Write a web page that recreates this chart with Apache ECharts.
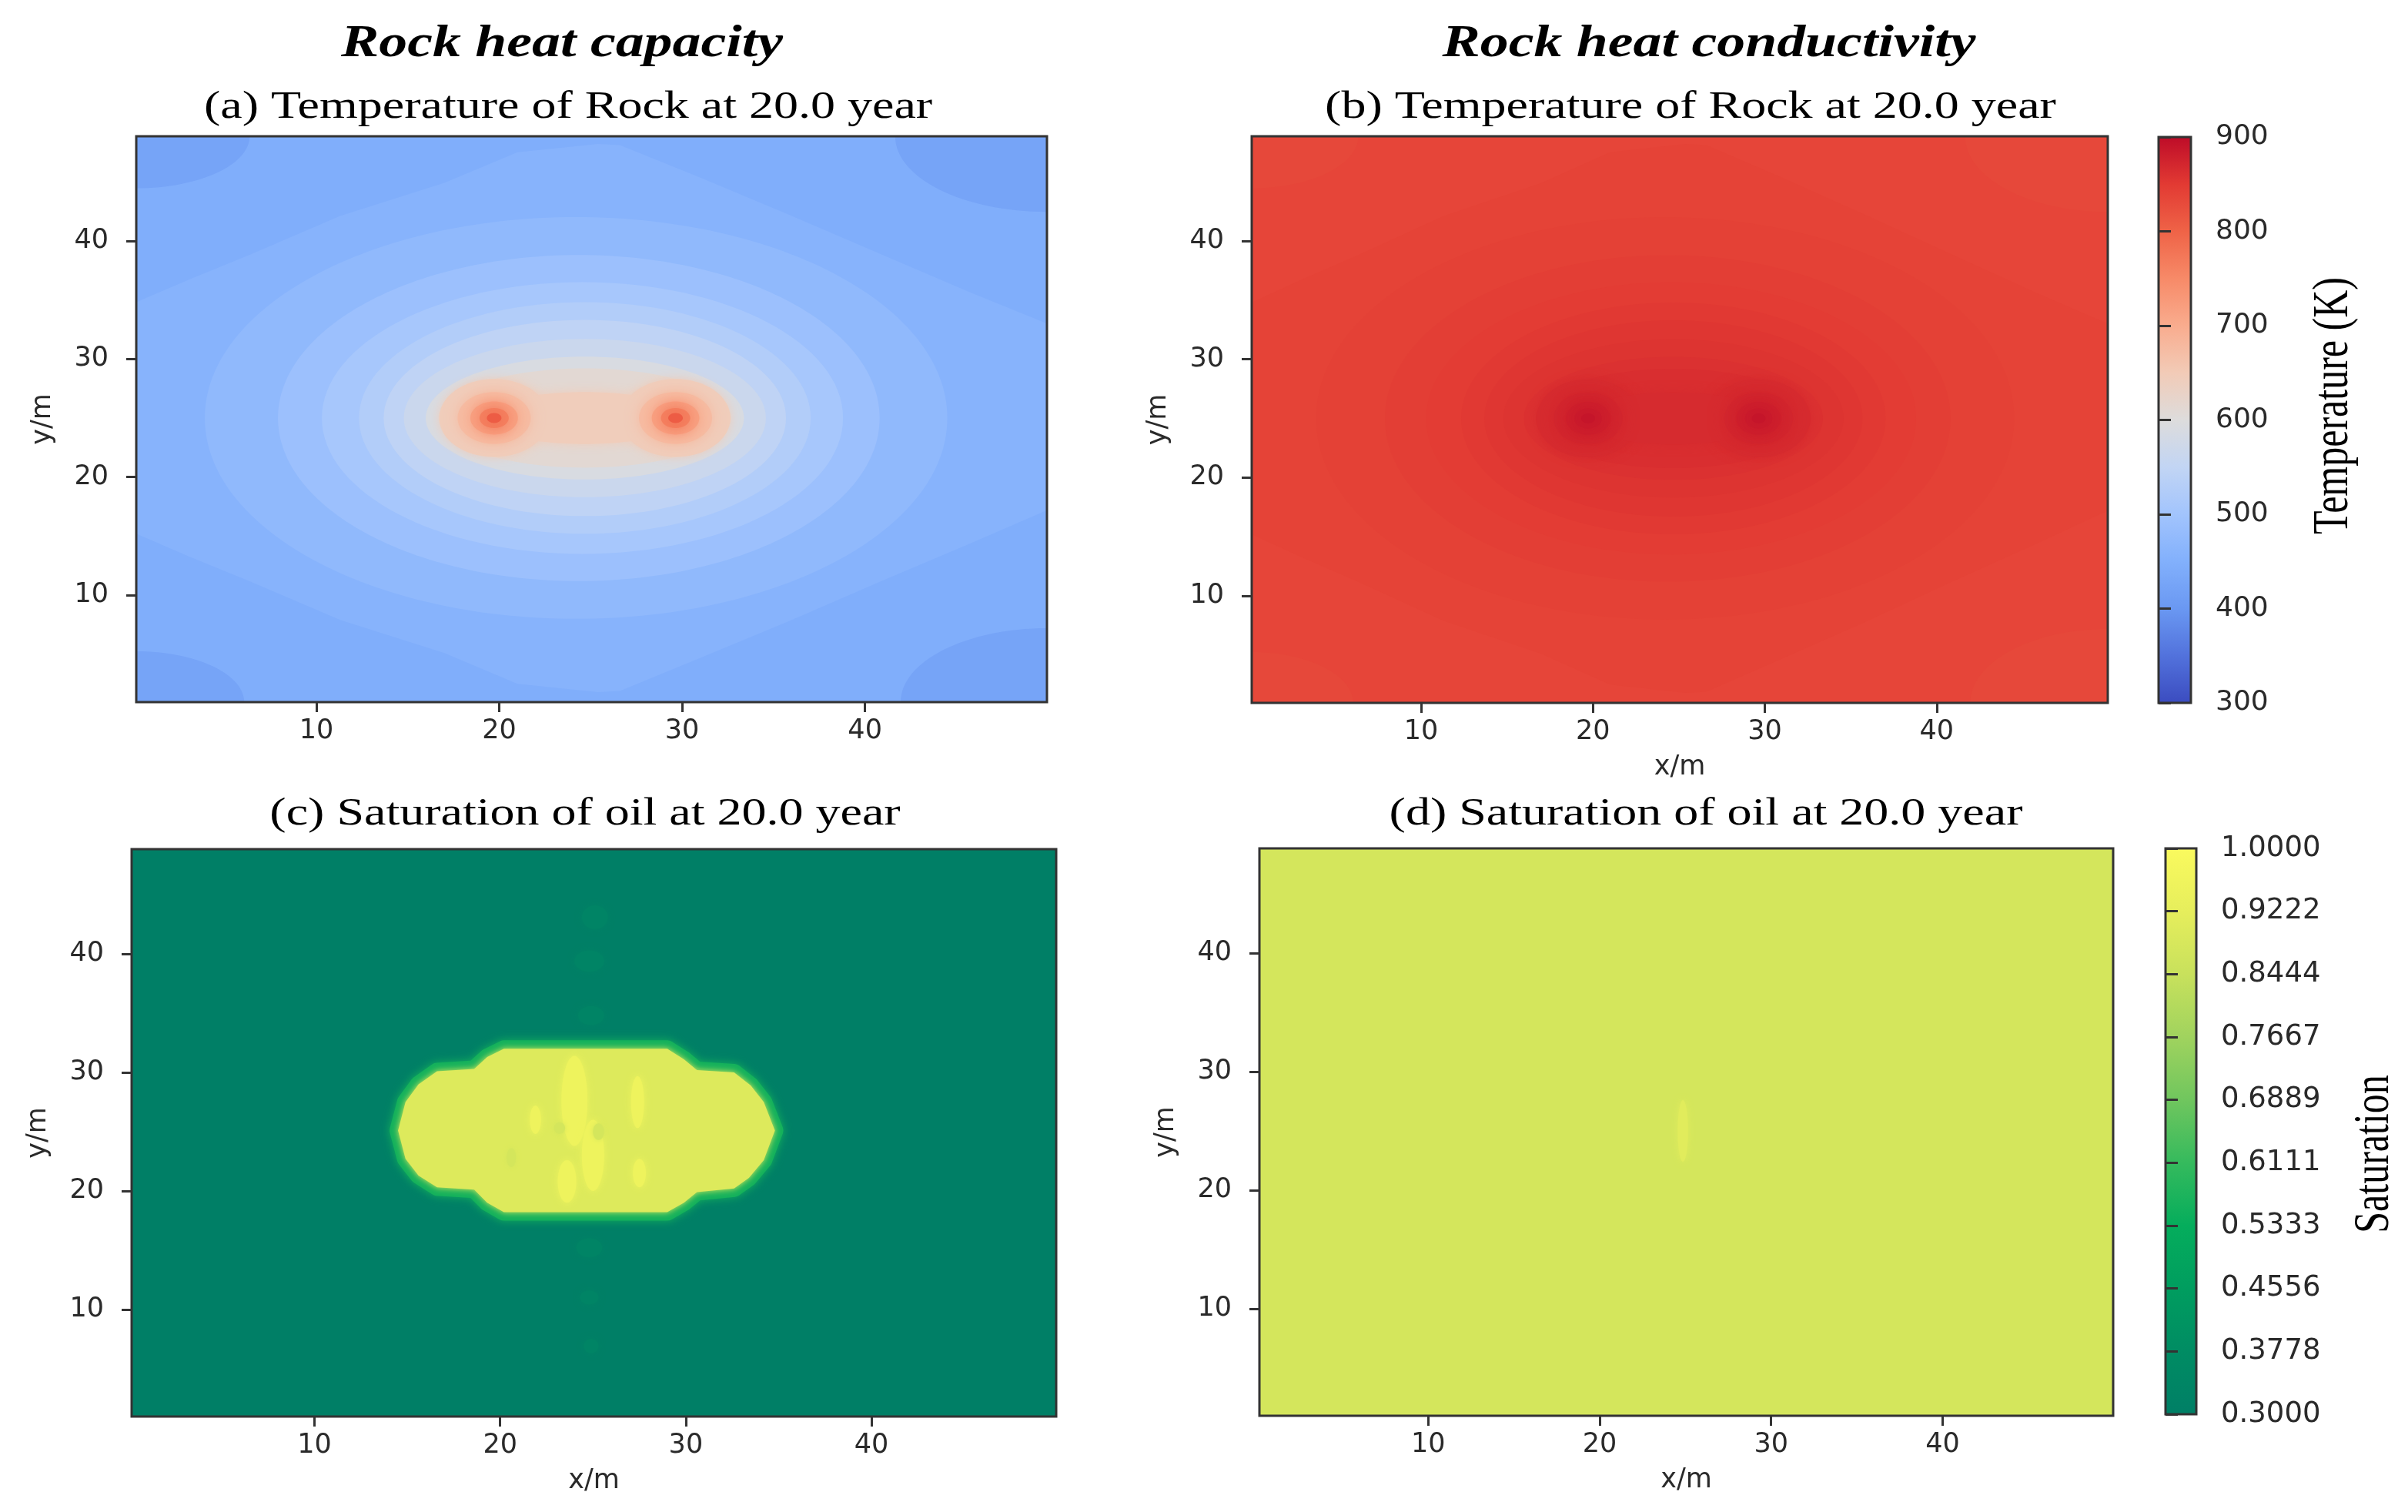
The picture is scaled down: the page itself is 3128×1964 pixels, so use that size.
<!DOCTYPE html>
<html>
<head>
<meta charset="utf-8">
<script src="https://cdn.jsdelivr.net/npm/echarts@6/dist/echarts.min.js"></script>
<style>
html,body{margin:0;padding:0;background:#ffffff;}
#chart{width:3128px;height:1964px;}
</style>
</head>
<body>
<div id="chart"></div>
<script>
// ---------------- axis extents and tick labels ----------------
const xRange = [0.15, 49.95];
const yRange = [0.95, 48.85];
const xTicks = [10, 20, 30, 40];
const yTicks = [10, 20, 30, 40];
const tempRange = [300, 900];
const satRange = [0.3, 1.0];
const satTicks = [0.3, 0.3778, 0.4556, 0.5333, 0.6111, 0.6889, 0.7667, 0.8444, 0.9222, 1.0];

// ---------------- colour maps (even stops, min -> max) ----------------
const tempColors = ['#3b4cc0', '#5272dc', '#6a98f2', '#82b0fc', '#a2c4fd', '#c2d5f4', '#dddcdc',
                    '#f2cbb7', '#f9ac8e', '#f78a68', '#ef6347', '#e23a33', '#be0c28'];
const satColors = ['#007f66', '#008c63', '#009d5f', '#05ad5c', '#35ba5d', '#70c65e', '#a0d35e',
                   '#c8e15c', '#e6ee5c', '#fafa5e'];

// ---------------- titles ----------------
const columnTitles = ['Rock heat capacity', 'Rock heat conductivity'];
const panelTitles = ['(a) Temperature of Rock at 20.0 year', '(b) Temperature of Rock at 20.0 year',
                     '(c) Saturation of oil at 20.0 year', '(d) Saturation of oil at 20.0 year'];
const colorbarTitles = ['Temperature (K)', 'Saturation'];

// ---------------- contour geometry of the temperature fields, data units ----------------
// ellipses: [cx, cy, rx, ry]
const cornerEllipses = [[0.15, 48.85, 6.2, 4.4], [49.95, 48.85, 8.3, 6.4], [0.15, 0.95, 5.9, 4.3], [49.95, 0.95, 8.0, 6.25]];
const lemonOutline = [[0.15, 34.8], [3.0, 36.7], [6.4, 38.85], [11.3, 42.1], [17.0, 44.9], [21.0, 47.5], [25.4, 48.2],
                      [26.6, 48.1], [31.0, 45.35], [36.0, 42.1], [40.9, 38.85], [45.8, 35.6], [49.95, 33.0],
                      [49.95, 17.2], [45.8, 14.4], [40.9, 11.2], [36.0, 7.9], [31.0, 4.7], [26.6, 1.9], [25.4, 1.8],
                      [21.0, 2.5], [17.0, 5.1], [11.3, 7.9], [6.4, 11.15], [3.0, 13.3], [0.15, 15.2]];
const ringEllipses = [[24.2, 25.0, 20.3, 17.0], [24.35, 25.0, 16.45, 13.8], [24.55, 25.0, 14.25, 11.5],
                      [24.68, 25.0, 12.35, 9.8], [24.68, 25.0, 11.0, 8.3], [24.68, 25.0, 9.9, 6.7],
                      [24.68, 25.0, 8.7, 5.2], [24.68, 25.0, 8.0, 4.2]];
const peanutEllipses = [[19.72, 25.0, 3.0, 3.3], [29.64, 25.0, 3.0, 3.3], [24.68, 25.0, 5.5, 2.2]];
const hotSpotCentres = [[19.72, 25.0], [29.64, 25.0]];
const hotSpotRadii = [[2.0, 2.2], [1.3, 1.4], [0.8, 0.85], [0.4, 0.42]];

// (a) rock heat capacity: temperatures (K)
const backgroundTempA = 445;
const cornerTempA = 425;
const lemonTempA = 458;
const ringTempsA = [472, 490, 508, 525, 545, 565, 590, 612];
const peanutTempA = 645;
const hotSpotTempsA = [675, 715, 760, 808];

// (b) rock heat conductivity: temperatures (K)
const backgroundTempB = 836;
const cornerTempB = 833;
const lemonTempB = 839;
const ringTempsB = [842, 845, 848, 851, 854, 857, 860, 863];
const peanutTempB = 866;
const hotSpotTempsB = [872, 878, 884, 890];

// (c) oil saturation, heat capacity case
const blobOutlineC = [[14.5, 25.1], [14.9, 27.5], [15.6, 29.0], [16.6, 30.1], [18.6, 30.3], [19.3, 31.3], [20.2, 32.0],
                      [29.0, 32.0], [29.9, 31.1], [30.6, 30.2], [32.6, 30.0], [33.5, 28.9], [34.2, 27.5], [34.8, 25.1],
                      [34.2, 22.6], [33.4, 21.1], [32.6, 20.2], [30.6, 19.9], [29.9, 19.0], [29.0, 18.2], [20.2, 18.2],
                      [19.3, 19.0], [18.6, 20.1], [16.6, 20.3], [15.6, 21.3], [14.9, 22.7]];
const ghostSpotsC = [[25.1, 43.1, 0.7, 1.0], [24.8, 39.4, 0.8, 0.9], [24.9, 34.8, 0.7, 0.8],
                     [24.8, 15.2, 0.7, 0.8], [24.8, 11.0, 0.5, 0.6], [24.9, 6.9, 0.4, 0.6]];
const brightPatchesC = [[24.0, 27.6, 0.7, 3.8], [25.0, 23.0, 0.6, 3.0], [23.6, 20.8, 0.5, 1.8],
                        [27.4, 27.5, 0.35, 2.2], [27.5, 21.5, 0.35, 1.2], [21.9, 26.0, 0.3, 1.2]];
const darkSpecksC = [[23.2, 25.3, 0.3, 0.5], [25.3, 25.0, 0.3, 0.7], [20.6, 22.8, 0.25, 0.8]];
const backgroundSatC = 0.30;
const ghostSatC = 0.33;
const haloSatC = 0.56;
const blobSatC = 0.9;
const brightSatC = 0.955;
const speckSatC = 0.875;

// (d) oil saturation, heat conductivity case
const streakD = [[24.85, 25.0, 0.3, 2.6]];
const backgroundSatD = 0.875;
const streakSatD = 0.91;

// ---------------- build drawable items ----------------
function buildTempShapes(bg, corner, lemon, rings, peanut, spots) {
  const s = [{kind: 'rect', v: bg}];
  cornerEllipses.forEach(e => s.push({kind: 'ellipse', e: e, v: corner}));
  s.push({kind: 'polygon', pts: lemonOutline, v: lemon});
  ringEllipses.forEach((e, i) => s.push({kind: 'ellipse', e: e, v: rings[i]}));
  peanutEllipses.forEach(e => s.push({kind: 'ellipse', e: e, v: peanut, blur: 14}));
  hotSpotRadii.forEach((r, j) => hotSpotCentres.forEach(c =>
    s.push({kind: 'ellipse', e: [c[0], c[1], r[0], r[1]], v: spots[j], blur: 20})));
  return s;
}
const shapesA = buildTempShapes(backgroundTempA, cornerTempA, lemonTempA, ringTempsA, peanutTempA, hotSpotTempsA);
const shapesB = buildTempShapes(backgroundTempB, cornerTempB, lemonTempB, ringTempsB, peanutTempB, hotSpotTempsB);

const shapesC = [{kind: 'rect', v: backgroundSatC}];
ghostSpotsC.forEach(e => shapesC.push({kind: 'ellipse', e: e, v: ghostSatC, blur: 8}));
shapesC.push({kind: 'polygon', pts: blobOutlineC, v: haloSatC, line: 22, blur: 12});
shapesC.push({kind: 'polygon', pts: blobOutlineC, v: blobSatC, blur: 8});
brightPatchesC.forEach(e => shapesC.push({kind: 'ellipse', e: e, v: brightSatC, blur: 10}));
darkSpecksC.forEach(e => shapesC.push({kind: 'ellipse', e: e, v: speckSatC, blur: 6}));

const shapesD = [{kind: 'rect', v: backgroundSatD}];
streakD.forEach(e => shapesD.push({kind: 'ellipse', e: e, v: streakSatD, blur: 8}));

function shapeRenderer(shapes) {
  return function (params, api) {
    const s = shapes[params.dataIndex];
    const color = api.visual('color');
    let el;
    if (s.kind === 'rect') {
      const a = api.coord([xRange[0], yRange[1]]);
      const b = api.coord([xRange[1], yRange[0]]);
      el = {type: 'rect', shape: {x: a[0], y: a[1], width: b[0] - a[0], height: b[1] - a[1]}};
    } else if (s.kind === 'ellipse') {
      const c = api.coord([s.e[0], s.e[1]]);
      const px = api.coord([s.e[0] + s.e[2], s.e[1] + s.e[3]]);
      el = {type: 'ellipse', shape: {cx: c[0], cy: c[1], rx: Math.abs(px[0] - c[0]), ry: Math.abs(px[1] - c[1])}};
    } else {
      el = {type: 'polygon', shape: {points: s.pts.map(p => api.coord(p))}};
    }
    el.style = {
      fill: color,
      stroke: s.line ? color : null,
      lineWidth: s.line || 0,
      lineJoin: 'round',
      shadowBlur: s.blur || 0,
      shadowColor: s.blur ? color : 'rgba(0,0,0,0)'
    };
    return el;
  };
}

function colorbarRenderer(colors, range) {
  const stops = colors.slice().reverse().map((c, i, arr) => ({offset: i / (arr.length - 1), color: c}));
  return function (params, api) {
    const a = api.coord([0, range[1]]);
    const b = api.coord([1, range[0]]);
    return {
      type: 'rect',
      shape: {x: a[0], y: a[1], width: b[0] - a[0], height: b[1] - a[1]},
      style: {fill: new echarts.graphic.LinearGradient(0, 0, 0, 1, stops)}
    };
  };
}

// ---------------- layout ----------------
const panelBoxes = [
  {left: 177, top: 177, width: 1183, height: 735},
  {left: 1626, top: 177, width: 1112, height: 736},
  {left: 171, top: 1103, width: 1201, height: 737},
  {left: 1636, top: 1102, width: 1109, height: 737}
];
const colorbarBoxes = [
  {left: 2804, top: 178, width: 42, height: 735},
  {left: 2813, top: 1102, width: 40, height: 735}
];

const tickColor = '#2a2a2a';
const labelFont = 'DejaVu Sans';

const grids = panelBoxes.concat(colorbarBoxes).map(b => Object.assign({
  show: true, backgroundColor: 'rgba(0,0,0,0)', borderColor: '#333333', borderWidth: 3, z: 10,
  containLabel: false, outerBoundsMode: 'none'
}, b));

const xAxes = [];
const yAxes = [];
for (let i = 0; i < 4; i++) {
  xAxes.push({
    type: 'value', gridIndex: i, min: xRange[0], max: xRange[1],
    name: i === 0 ? '' : 'x/m', nameLocation: 'middle', nameGap: 66,
    nameTextStyle: {fontFamily: labelFont, fontSize: 35, color: tickColor},
    axisLine: {show: false},
    axisTick: {show: true, customValues: xTicks, length: 13, lineStyle: {color: '#333', width: 3}},
    axisLabel: {customValues: xTicks, margin: 20, fontFamily: labelFont, fontSize: 35, color: tickColor},
    splitLine: {show: false}, z: 10
  });
  yAxes.push({
    type: 'value', gridIndex: i, min: yRange[0], max: yRange[1],
    name: 'y/m', nameLocation: 'middle', nameGap: 104,
    nameTextStyle: {fontFamily: labelFont, fontSize: 35, color: tickColor},
    axisLine: {show: false},
    axisTick: {show: true, customValues: yTicks, length: 13, lineStyle: {color: '#333', width: 3}},
    axisLabel: {customValues: yTicks, margin: 36, fontFamily: labelFont, fontSize: 35, color: tickColor},
    splitLine: {show: false}, z: 10
  });
}
// colour bar axes
xAxes.push({type: 'value', gridIndex: 4, min: 0, max: 1, show: false});
xAxes.push({type: 'value', gridIndex: 5, min: 0, max: 1, show: false});
yAxes.push({
  type: 'value', gridIndex: 4, position: 'right', min: tempRange[0], max: tempRange[1], interval: 100,
  axisLine: {show: false},
  axisTick: {show: true, length: 16, lineStyle: {color: '#333', width: 3}},
  axisLabel: {margin: 32, fontFamily: labelFont, fontSize: 36, color: tickColor},
  splitLine: {show: false}, z: 10
});
yAxes.push({
  type: 'value', gridIndex: 5, position: 'right', min: satRange[0], max: satRange[1],
  axisLine: {show: false},
  axisTick: {show: true, customValues: satTicks, length: 16, lineStyle: {color: '#333', width: 3}},
  axisLabel: {customValues: satTicks, margin: 32, fontFamily: labelFont, fontSize: 37, color: tickColor,
              formatter: v => Number(v).toFixed(4)},
  splitLine: {show: false}, z: 10
});

const panelShapes = [shapesA, shapesB, shapesC, shapesD];
const series = panelShapes.map((shapes, i) => ({
  type: 'custom', name: panelTitles[i], xAxisIndex: i, yAxisIndex: i, clip: true, silent: true, z: 2,
  renderItem: shapeRenderer(shapes),
  data: shapes.map(s => [s.v, s.v])
}));
series.push({
  type: 'custom', name: colorbarTitles[0], xAxisIndex: 4, yAxisIndex: 4, clip: false, silent: true, z: 2,
  renderItem: colorbarRenderer(tempColors, tempRange), data: [[0.5, tempRange[0]]]
});
series.push({
  type: 'custom', name: colorbarTitles[1], xAxisIndex: 5, yAxisIndex: 5, clip: false, silent: true, z: 2,
  renderItem: colorbarRenderer(satColors, satRange), data: [[0.5, satRange[0]]]
});

const serif = '"Liberation Serif", "Times New Roman", serif';
const graphic = [
  {type: 'text', x: 730, y: 57, scaleX: 1.23, silent: true,
   style: {text: columnTitles[0], font: 'italic bold 60px ' + serif, fill: '#000', textAlign: 'center', textVerticalAlign: 'middle'}},
  {type: 'text', x: 2220, y: 57, scaleX: 1.23, silent: true,
   style: {text: columnTitles[1], font: 'italic bold 60px ' + serif, fill: '#000', textAlign: 'center', textVerticalAlign: 'middle'}},
  {type: 'text', x: 738, y: 140, scaleX: 1.28, silent: true,
   style: {text: panelTitles[0], font: '50px ' + serif, fill: '#000', textAlign: 'center', textVerticalAlign: 'middle'}},
  {type: 'text', x: 2196, y: 140, scaleX: 1.28, silent: true,
   style: {text: panelTitles[1], font: '50px ' + serif, fill: '#000', textAlign: 'center', textVerticalAlign: 'middle'}},
  {type: 'text', x: 760, y: 1058, scaleX: 1.28, silent: true,
   style: {text: panelTitles[2], font: '50px ' + serif, fill: '#000', textAlign: 'center', textVerticalAlign: 'middle'}},
  {type: 'text', x: 2216, y: 1058, scaleX: 1.28, silent: true,
   style: {text: panelTitles[3], font: '50px ' + serif, fill: '#000', textAlign: 'center', textVerticalAlign: 'middle'}},
  {type: 'text', x: 3032, y: 527, rotation: Math.PI / 2, scaleY: 1.3, silent: true,
   style: {text: colorbarTitles[0], font: '50px ' + serif, fill: '#000', textAlign: 'center', textVerticalAlign: 'middle'}},
  {type: 'text', x: 3085, y: 1499, rotation: Math.PI / 2, scaleY: 1.3, silent: true,
   style: {text: colorbarTitles[1], font: '50px ' + serif, fill: '#000', textAlign: 'center', textVerticalAlign: 'middle'}}
];

const option = {
  backgroundColor: '#ffffff',
  animation: false,
  textStyle: {fontFamily: labelFont},
  grid: grids,
  xAxis: xAxes,
  yAxis: yAxes,
  visualMap: [
    {type: 'continuous', show: false, seriesIndex: [0, 1], dimension: 0,
     min: tempRange[0], max: tempRange[1], inRange: {color: tempColors}},
    {type: 'continuous', show: false, seriesIndex: [2, 3], dimension: 0,
     min: satRange[0], max: satRange[1], inRange: {color: satColors}}
  ],
  series: series,
  graphic: graphic
};

const chart = echarts.init(document.getElementById('chart'), null, {renderer: 'canvas', width: 3128, height: 1964});
chart.setOption(option);
</script>
</body>
</html>
